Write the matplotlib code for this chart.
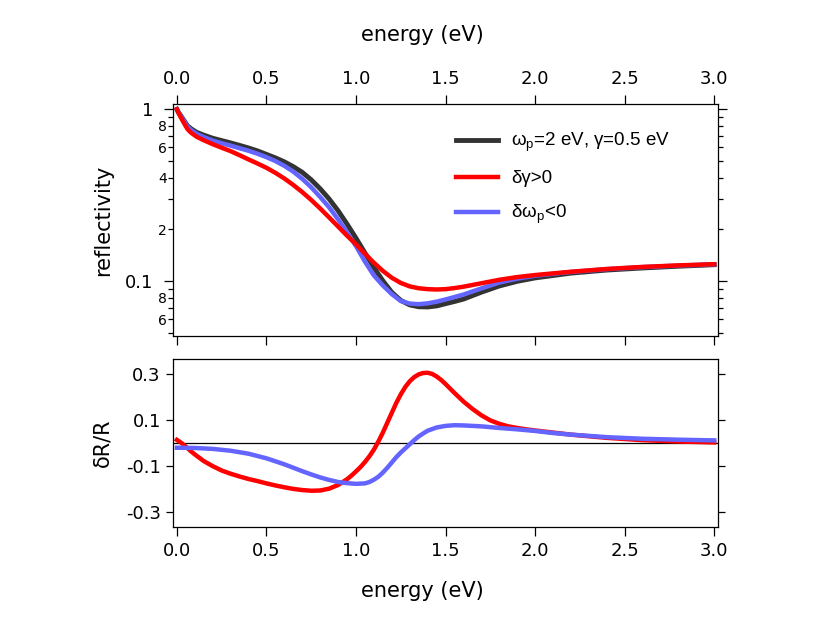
import numpy as np
import matplotlib.pyplot as plt
from matplotlib.ticker import FixedLocator, FixedFormatter

plt.rcParams['font.family'] = 'DejaVu Sans'
plt.rcParams['mathtext.fontset'] = 'custom'
plt.rcParams['mathtext.rm'] = 'Liberation Sans'
plt.rcParams['mathtext.it'] = 'Liberation Sans'
plt.rcParams['mathtext.bf'] = 'Liberation Sans'

# reflectivity
energy_r = [0.0, 0.01, 0.02, 0.04, 0.06, 0.08, 0.11, 0.15, 0.2, 0.25, 0.3, 0.35, 0.4, 0.45,
            0.5, 0.55, 0.6, 0.65, 0.7, 0.75, 0.8, 0.85, 0.9, 0.95, 1.0, 1.05, 1.1, 1.15,
            1.2, 1.25, 1.3, 1.35, 1.4, 1.45, 1.5, 1.55, 1.6, 1.7, 1.8, 1.9, 2.0, 2.2, 2.4,
            2.6, 2.8, 3.0]
refl_base = [1.0, 0.955, 0.925, 0.86, 0.80, 0.77, 0.735, 0.708, 0.679, 0.658, 0.638, 0.617,
             0.596, 0.573, 0.547, 0.522, 0.495, 0.464, 0.430, 0.389, 0.345, 0.301, 0.257,
             0.215, 0.178, 0.146, 0.120, 0.1005, 0.0861, 0.0773, 0.0728, 0.0710, 0.0708,
             0.0718, 0.0740, 0.0762, 0.0787, 0.0863, 0.0938, 0.0998, 0.1045, 0.1114,
             0.1161, 0.1194, 0.1222, 0.1247]
refl_dgamma = [1.0, 0.95, 0.905, 0.83, 0.765, 0.73, 0.693, 0.661, 0.627, 0.598, 0.571, 0.541,
               0.511, 0.484, 0.457, 0.427, 0.396, 0.363, 0.330, 0.297, 0.265, 0.235, 0.208,
               0.184, 0.164, 0.1445, 0.128, 0.1148, 0.1047, 0.0977, 0.0933, 0.0910, 0.0899,
               0.0895, 0.0899, 0.0912, 0.0929, 0.0973, 0.1019, 0.1057, 0.1086, 0.1135,
               0.1178, 0.1211, 0.1236, 0.1256]
refl_dwp = [1.0, 0.955, 0.92, 0.855, 0.79, 0.757, 0.72, 0.689, 0.658, 0.635, 0.615, 0.594,
            0.574, 0.552, 0.527, 0.500, 0.469, 0.434, 0.394, 0.352, 0.309, 0.269, 0.229,
            0.192, 0.160, 0.130, 0.108, 0.0944, 0.0841, 0.0767, 0.0741, 0.0735, 0.0743,
            0.0760, 0.0783, 0.0809, 0.0836, 0.0908, 0.0982, 0.1035, 0.1076, 0.1132,
            0.1175, 0.1208, 0.1233, 0.1253]

# relative change dR/R
energy_red = [0.0, 0.025, 0.05, 0.075, 0.1, 0.15, 0.2, 0.25, 0.3, 0.35, 0.4, 0.45, 0.5,
              0.55, 0.6, 0.65, 0.7, 0.75, 0.8, 0.85, 0.9, 0.95, 0.975, 1.0, 1.025, 1.05,
              1.075, 1.1, 1.125, 1.15, 1.175, 1.2, 1.225, 1.25, 1.275, 1.3, 1.325, 1.35,
              1.375, 1.4, 1.425, 1.45, 1.475, 1.5, 1.55, 1.6, 1.65, 1.7, 1.75, 1.8, 1.85,
              1.9, 1.95, 2.0, 2.1, 2.2, 2.4, 2.6, 2.8, 3.0]
drr_dgamma = [0.015, 0.002, -0.014, -0.032, -0.048, -0.077, -0.099, -0.118, -0.132, -0.144,
              -0.155, -0.164, -0.174, -0.183, -0.191, -0.198, -0.203, -0.206, -0.205,
              -0.197, -0.181, -0.156, -0.140, -0.122, -0.103, -0.081, -0.056, -0.027,
              0.008, 0.047, 0.090, 0.133, 0.176, 0.213, 0.245, 0.270, 0.288, 0.300, 0.306,
              0.307, 0.302, 0.291, 0.276, 0.258, 0.219, 0.182, 0.150, 0.122, 0.100, 0.085,
              0.074, 0.067, 0.061, 0.056, 0.047, 0.038, 0.024, 0.014, 0.008, 0.004]
energy_blue = [0.0, 0.1, 0.2, 0.3, 0.4, 0.5, 0.6, 0.7, 0.75, 0.8, 0.85, 0.9, 0.95, 1.0,
               1.05, 1.075, 1.1, 1.125, 1.15, 1.175, 1.2, 1.225, 1.25, 1.275, 1.3, 1.325,
               1.35, 1.375, 1.4, 1.45, 1.5, 1.55, 1.6, 1.7, 1.8, 1.9, 2.0, 2.1, 2.2, 2.4,
               2.6, 2.8, 3.0]
drr_dwp = [-0.019, -0.020, -0.024, -0.032, -0.045, -0.065, -0.091, -0.121, -0.135, -0.148,
           -0.159, -0.168, -0.173, -0.176, -0.174, -0.168, -0.158, -0.145, -0.127, -0.106,
           -0.083, -0.060, -0.040, -0.022, -0.004, 0.014, 0.030, 0.043, 0.055, 0.069,
           0.076, 0.079, 0.078, 0.074, 0.067, 0.061, 0.054, 0.045, 0.038, 0.027, 0.020,
           0.016, 0.013]

labels = [r'$\mathrm{\omega_p}$=2 eV, γ=0.5 eV', 'δγ>0', r'δ$\mathrm{\omega_p}$<0']
BLACK, RED, BLUE = '#333333', '#ff0000', '#6464ff'
xticks = [0.0, 0.5, 1.0, 1.5, 2.0, 2.5, 3.0]
xtick_txt = ['0.0', '0.5', '1.0', '1.5', '2.0', '2.5', '3.0']

fig = plt.figure(figsize=(8.3, 6.23), dpi=100)
ax1 = fig.add_axes([0.2088, 0.4607, 0.656, 0.3719])
ax2 = fig.add_axes([0.2088, 0.1536, 0.656, 0.2702])

# top panel
ax1.plot(energy_r, refl_base, color=BLACK, lw=3.5, label=labels[0])
ax1.plot(energy_r, refl_dgamma, color=RED, lw=3.2, label=labels[1], zorder=3)
ax1.plot(energy_r, refl_dwp, color=BLUE, lw=3.2, label=labels[2], zorder=2.5)
ax1.set_yscale('log')
ax1.set_xlim(-0.02, 3.02)
ax1.set_ylim(0.048, 1.07)

ax1.yaxis.set_major_locator(FixedLocator([0.1, 1]))
ax1.yaxis.set_major_formatter(FixedFormatter(['0.1', '1']))
minor_vals = [0.05, 0.06, 0.07, 0.08, 0.09, 0.2, 0.3, 0.4, 0.5, 0.6, 0.7, 0.8, 0.9]
minor_txt = ['', '6', '', '8', '', '2', '', '4', '', '6', '', '8', '']
ax1.yaxis.set_minor_locator(FixedLocator(minor_vals))
ax1.yaxis.set_minor_formatter(FixedFormatter(minor_txt))
ax1.xaxis.set_major_locator(FixedLocator(xticks))
ax1.xaxis.set_major_formatter(FixedFormatter(xtick_txt))

ax1.tick_params(axis='x', which='major', direction='out', top=True, labeltop=True,
                bottom=True, labelbottom=False, length=6.5, width=0.9, labelsize=13, pad=5.5)
ax1.tick_params(axis='y', which='major', direction='out', right=True, labelright=False,
                length=6.5, width=0.9, labelsize=13, pad=8)
ax1.tick_params(axis='y', which='minor', direction='out', right=True, labelright=False,
                length=3.5, width=0.9, labelsize=10, pad=1)
ax1.set_xlabel('energy (eV)', fontsize=15)
ax1.xaxis.set_label_position('top')
ax1.xaxis.set_label_coords(0.458, 1.272)
ax1.set_ylabel('reflectivity', fontsize=15)
ax1.yaxis.set_label_coords(-0.111, 0.5)

ax1.legend(loc='upper left', bbox_to_anchor=(0.52, 0.885), frameon=False,
           prop={'family': 'Liberation Sans', 'size': 13.5},
           handlelength=2.2, handletextpad=0.7, labelspacing=0.85,
           borderpad=0, borderaxespad=0)

# bottom panel
ax2.axhline(0, color='black', lw=0.9, zorder=1)
ax2.plot(energy_red, drr_dgamma, color=RED, lw=3.2, zorder=2)
ax2.plot(energy_blue, drr_dwp, color=BLUE, lw=3.2, zorder=3)
ax2.set_xlim(-0.02, 3.02)
ax2.set_ylim(-0.365, 0.367)
ax2.yaxis.set_major_locator(FixedLocator([-0.3, -0.1, 0.1, 0.3]))
ax2.yaxis.set_major_formatter(FixedFormatter(['-0.3', '-0.1', '0.1', '0.3']))
ax2.xaxis.set_major_locator(FixedLocator(xticks))
ax2.xaxis.set_major_formatter(FixedFormatter(xtick_txt))
ax2.tick_params(axis='x', direction='out', length=6.5, width=0.9, labelsize=13, pad=4)
ax2.tick_params(axis='y', direction='out', right=True, labelright=False,
                length=5, width=0.9, labelsize=13, pad=4)
ax2.set_xlabel('energy (eV)', fontsize=15)
ax2.xaxis.set_label_coords(0.458, -0.318)
ax2.set_ylabel('δR/R', fontsize=15)
ax2.yaxis.set_label_coords(-0.111, 0.5)

for ax in (ax1, ax2):
    for s in ax.spines.values():
        s.set_linewidth(0.9)

fig.savefig('out.png', dpi=100)
